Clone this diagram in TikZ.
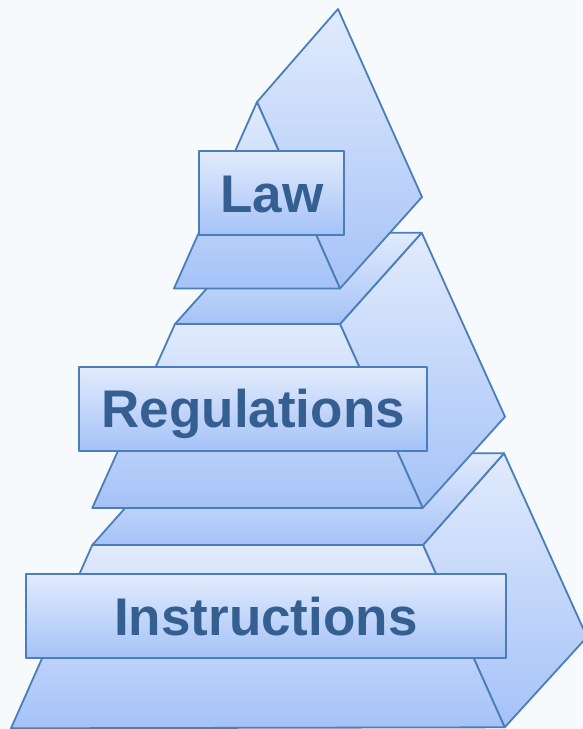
\documentclass[tikz,border=0pt]{standalone}
\usepackage{fontspec}
\setmainfont{Liberation Sans}
\definecolor{edge}{HTML}{4A7EBB}
\definecolor{pale}{HTML}{E2EBFD}
\definecolor{deep}{HTML}{A5C2F7}
\definecolor{ink}{HTML}{355F91}
\definecolor{paper}{HTML}{F7FAFD}

\begin{document}
\begin{tikzpicture}
  [x=1pt,y=-1pt,
   slab/.style={draw=edge,line width=1.8pt,line join=round,top color=pale,bottom color=deep},
   every node/.style={slab,inner sep=0pt,minimum height=84pt,text height=38pt,text depth=0pt,
     text=ink,font=\fontsize{53}{60}\selectfont\bfseries}]
  \fill[paper] (0,0) rectangle (583,729);
  \useasboundingbox (0,0) rectangle (583,729);

  % bottom tier
  \draw[slab] (423,545) -- (504,453.3) -- (587,637) -- (504.7,727.3) -- cycle;
  \draw[slab] (92.3,545) -- (423,545) -- (504,453.3) -- (173.6,453.3) -- cycle;
  \draw[slab] (92.3,545) -- (423,545) -- (504.7,727.3) -- (11,728.3) -- cycle;

  % middle tier
  \draw[slab] (340,324) -- (421.7,232.7) -- (505,416.7) -- (422.7,508) -- cycle;
  \draw[slab] (175,324) -- (340,324) -- (421.7,232.7) -- (256.7,232.7) -- cycle;
  \draw[slab] (175,324) -- (340,324) -- (422.7,508) -- (92.3,508) -- cycle;

  % top tier
  \draw[slab] (257,102) -- (338,9) -- (422,197) -- (340,288.5) -- cycle;
  \draw[slab] (257,102) -- (340,288.5) -- (174,288.5) -- cycle;

  % labels
  \node[minimum width=145pt] (law) at (271.8,193) {Law};
  \node[minimum width=348pt] (regs) at (253.2,408.7) {Regulations};
  \node[minimum width=480pt] (instr) at (265.9,616.2) {Instructions};

\end{tikzpicture}
\end{document}
